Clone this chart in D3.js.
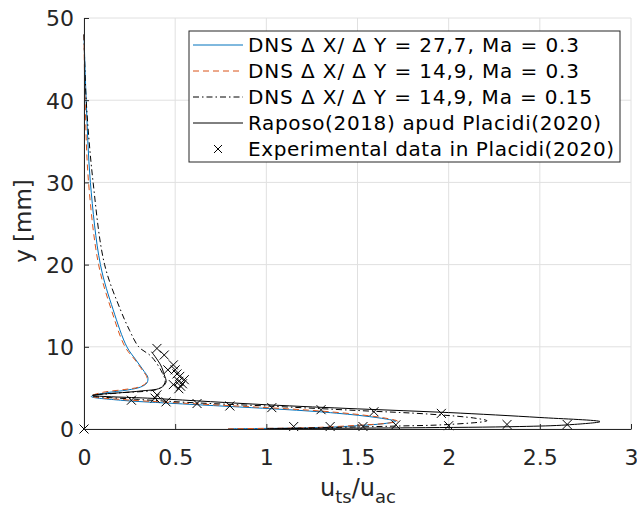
<!DOCTYPE html>
<html>
<head>
<meta charset="utf-8">
<script src="https://cdn.jsdelivr.net/npm/d3@7"></script>
<style>
  body { margin: 0; background: #fff; }
  text { font-family: "DejaVu Sans", sans-serif; fill: #262626; }
</style>
</head>
<body>
<svg width="637" height="509"></svg>
<script>
// u_ts/u_ac (x) vs y [mm] (y)
var dns277 = [
  [0.0, 48], [0.012, 40], [0.035, 30], [0.09, 20], [0.16, 14.5], [0.235, 10], [0.285, 8.4],
  [0.33, 7.0], [0.35, 6.3], [0.345, 5.6], [0.31, 5.1], [0.24, 4.75], [0.12, 4.4], [0.04, 3.95],
  [0.2, 3.5], [0.46, 3.15], [0.79, 2.75], [1.04, 2.45], [1.29, 2.1], [1.53, 1.6], [1.66, 1.2],
  [1.71, 0.95], [1.66, 0.7], [1.5, 0.4], [1.26, 0.15], [1.0, 0.07], [0.79, 0.03]
];
var dns149 = [
  [0.0, 48], [0.006, 40], [0.025, 30], [0.08, 20], [0.15, 14.5], [0.225, 10], [0.28, 8.4],
  [0.325, 7.0], [0.345, 6.3], [0.34, 5.6], [0.3, 5.1], [0.22, 4.8], [0.1, 4.45], [0.04, 4.0],
  [0.2, 3.6], [0.46, 3.25], [0.79, 2.85], [1.04, 2.55], [1.29, 2.2], [1.53, 1.7], [1.67, 1.25],
  [1.72, 0.95], [1.67, 0.72], [1.5, 0.45], [1.26, 0.18], [1.0, 0.08], [0.79, 0.03]
];
var dns149ma015 = [
  [0.0, 48], [0.012, 40], [0.05, 30], [0.113, 20], [0.2, 14.5], [0.25, 12], [0.3, 10],
  [0.37, 8.8], [0.43, 6.8], [0.445, 5.7], [0.41, 4.9], [0.2, 4.4], [0.04, 4.05],
  [0.3, 3.6], [0.6, 3.2], [1.0, 2.8], [1.5, 2.25], [1.9, 1.8], [2.15, 1.3], [2.21, 1.0],
  [2.0, 0.55], [1.7, 0.35], [1.4, 0.2], [1.05, 0.05]
];
var raposo = [
  [0.37, 9.4], [0.42, 7.8], [0.44, 6.6], [0.45, 5.7], [0.42, 5.0], [0.3, 4.6], [0.05, 4.1],
  [0.4, 3.7], [1.0, 2.95], [1.5, 2.45], [2.0, 2.0], [2.5, 1.4], [2.83, 0.9],
  [2.65, 0.5], [2.39, 0.3], [1.8, 0.15], [1.3, 0.08], [1.0, 0.04]
];
var experimental = [
  [0, 0], [1.15, 0.3], [1.35, 0.3], [1.53, 0.3], [1.71, 0.5], [2.0, 0.4], [2.32, 0.55], [2.65, 0.55],
  [1.96, 1.9], [1.59, 2.1], [1.3, 2.35], [1.03, 2.6], [0.8, 2.8], [0.62, 3.1], [0.45, 3.3],
  [0.26, 3.5], [0.39, 3.75], [0.4, 4.15], [0.49, 5.4], [0.52, 4.9], [0.53, 5.2], [0.52, 5.8],
  [0.55, 6.0], [0.525, 6.4], [0.5, 7.2], [0.46, 7.2], [0.49, 7.8], [0.44, 9.0], [0.4, 9.8],
  [0.54, 5.5], [0.51, 6.7]
];
var xTicks = [0, 0.5, 1, 1.5, 2, 2.5, 3];
var yTicks = [0, 10, 20, 30, 40, 50];
var legendLabels = [
  "DNS \u0394 X/ \u0394 Y = 27,7, Ma = 0.3",
  "DNS \u0394 X/ \u0394 Y = 14,9, Ma = 0.3",
  "DNS \u0394 X/ \u0394 Y = 14,9, Ma = 0.15",
  "Raposo(2018) apud Placidi(2020)",
  "Experimental data in Placidi(2020)"
];

var svg = d3.select("svg"),
    margin = {top: 18, right: 6, bottom: 80, left: 84},
    g = svg.append("g").attr("transform", "translate(" + margin.left + "," + margin.top + ")");

var xScale = d3.scaleLinear().domain([0, 3]).range([0, 547]),
    yScale = d3.scaleLinear().domain([0, 50]).range([411, 0]);

// grid
g.append("g").selectAll("line").data(xTicks).enter().append("line")
    .attr("x1", d => xScale(d)).attr("x2", d => xScale(d))
    .attr("y1", 0).attr("y2", 411)
    .attr("stroke", "#e0e0e0").attr("stroke-width", 1);
g.append("g").selectAll("line").data(yTicks).enter().append("line")
    .attr("x1", 0).attr("x2", 547)
    .attr("y1", d => yScale(d)).attr("y2", d => yScale(d))
    .attr("stroke", "#e0e0e0").attr("stroke-width", 1);

var line = d3.line()
    .x(function (d) { return xScale(d[0]); })
    .y(function (d) { return yScale(d[1]); })
    .curve(d3.curveCatmullRom.alpha(0.5));

var series = [
  {data: dns277, color: "#0072BD", dash: null},
  {data: dns149, color: "#D95319", dash: "6,4"},
  {data: dns149ma015, color: "#000", dash: "6,3,1.5,3"},
  {data: raposo, color: "#000", dash: null}
];

series.forEach(function (s) {
  g.append("path")
    .attr("d", line(s.data))
    .attr("fill", "none")
    .attr("stroke", s.color)
    .attr("stroke-width", 1)
    .attr("stroke-dasharray", s.dash);
});

function xMark(sel, size) {
  sel.append("path")
    .attr("d", "M" + (-size) + "," + (-size) + "L" + size + "," + size +
               "M" + (-size) + "," + size + "L" + size + "," + (-size))
    .attr("stroke", "#000").attr("stroke-width", 1).attr("fill", "none");
}

g.append("g").selectAll("g").data(experimental).enter().append("g")
    .attr("transform", d => "translate(" + xScale(d[0]) + "," + yScale(d[1]) + ")")
    .call(xMark, 4.5);

// axes
var xAxis = d3.axisBottom(xScale).tickValues(xTicks).tickSizeInner(-5).tickSizeOuter(0)
    .tickPadding(20).tickFormat(d3.format("~g"));
var gX = g.append("g").attr("transform", "translate(0,411)").call(xAxis);
var yAxis = d3.axisLeft(yScale).tickValues(yTicks).tickSizeInner(-5).tickSizeOuter(0)
    .tickPadding(10);
var gY = g.append("g").call(yAxis);
[gX, gY].forEach(function (a) {
  a.select(".domain").attr("stroke", "#262626");
  a.selectAll(".tick line").attr("stroke", "#262626");
  a.selectAll(".tick text").attr("font-size", 22).attr("fill", "#262626")
    .attr("font-family", "DejaVu Sans, sans-serif");
});
gY.selectAll(".tick text").attr("dy", "0.36em");

// axis labels
svg.append("text")
    .attr("transform", "translate(31,221) rotate(-90)")
    .attr("text-anchor", "middle")
    .attr("font-size", 23)
    .text("y [mm]");

var xl = svg.append("text")
    .attr("x", 358).attr("y", 496)
    .attr("text-anchor", "middle")
    .attr("font-size", 24);
xl.append("tspan").text("u");
xl.append("tspan").attr("font-size", 18).attr("dy", 7).text("ts");
xl.append("tspan").attr("dy", -7).text("/u");
xl.append("tspan").attr("font-size", 18).attr("dy", 7).text("ac");

// legend
var legendWidths = [331, 331, 344, 353, 366];
var legend = svg.append("g").attr("transform", "translate(189,31)");
legend.append("rect")
    .attr("width", 431).attr("height", 131)
    .attr("fill", "#fff").attr("stroke", "#262626").attr("stroke-width", 1);

var legendRows = legend.selectAll(".legend-row")
    .data(legendLabels)
    .enter().append("g")
    .attr("class", "legend-row")
    .attr("transform", function (d, i) { return "translate(0," + (14 + i * 26) + ")"; });

legendRows.each(function (d, i) {
  var row = d3.select(this);
  if (i < 4) {
    row.append("line")
      .attr("x1", 4).attr("x2", 54).attr("y1", 0).attr("y2", 0)
      .attr("stroke", series[i].color).attr("stroke-width", 1)
      .attr("stroke-dasharray", series[i].dash);
  } else {
    row.append("g").attr("transform", "translate(29,0)").call(xMark, 4);
  }
  row.append("text")
    .attr("x", 59).attr("dy", "0.36em")
    .attr("font-size", 20)
    .attr("textLength", legendWidths[i])
    .attr("lengthAdjust", "spacing")
    .style("fill", "#000")
    .text(d);
});
</script>
</body>
</html>
